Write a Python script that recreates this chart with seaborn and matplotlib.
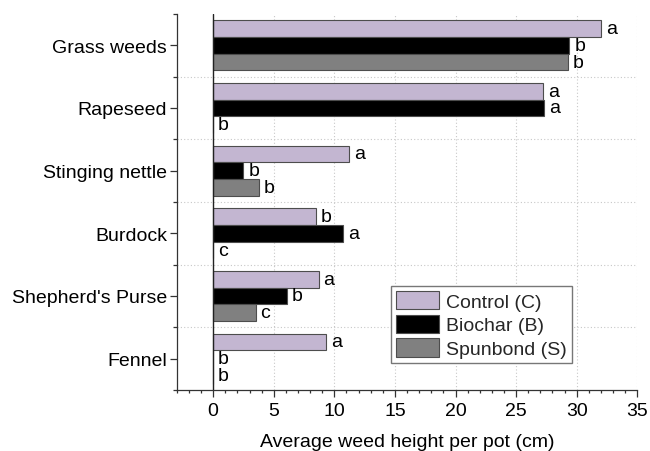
import matplotlib
matplotlib.use("Agg")
import matplotlib.pyplot as plt
from matplotlib.ticker import MultipleLocator, FixedLocator
import seaborn as sns
import pandas as pd

weeds = ["Grass weeds", "Rapeseed", "Stinging nettle", "Burdock", "Shepherd's Purse", "Fennel"]
treatments = ["Control (C)", "Biochar (B)", "Spunbond (S)"]
control = [32.0, 27.2, 11.2, 8.5, 8.7, 9.3]
biochar = [29.4, 27.3, 2.5, 10.7, 6.1, 0.0]
spunbond = [29.3, 0.0, 3.8, 0.0, 3.5, 0.0]
control_letters = ["a", "a", "a", "b", "a", "a"]
biochar_letters = ["b", "a", "b", "a", "b", "b"]
spunbond_letters = ["b", "b", "b", "c", "c", "b"]
colors = ["#c3b1d6", "#000000", "#808080"]
x_ticks = [0, 5, 10, 15, 20, 25, 30, 35]

rows = []
for t, vals in zip(treatments, [control, biochar, spunbond]):
    for w, v in zip(weeds, vals):
        rows.append({"weed": w, "treatment": t, "height": v})
df = pd.DataFrame(rows)

sns.set_style("ticks")
plt.rcParams["font.family"] = ["Liberation Sans", "DejaVu Sans"]

fig = plt.figure(figsize=(6.5, 4.52), dpi=100)
ax = fig.add_axes([0.272, 0.135, 0.7085, 0.8318])

sns.barplot(data=df, y="weed", x="height", hue="treatment", orient="h",
            order=weeds, hue_order=treatments, palette=colors,
            edgecolor="#4d4d4d", linewidth=0.8, width=0.8, ax=ax, zorder=3)

for cont, letters in zip(ax.containers, [control_letters, biochar_letters, spunbond_letters]):
    ax.bar_label(cont, labels=letters, padding=3.5, fontsize=14, color="black")

ax.set_xlim(-3, 35)
ax.set_ylim(5.5, -0.5)
ax.xaxis.set_major_locator(FixedLocator(x_ticks))
ax.xaxis.set_minor_locator(MultipleLocator(1))
ax.yaxis.set_minor_locator(FixedLocator([i - 0.5 for i in range(len(weeds) + 1)]))

ax.axvline(0, color="#222222", linewidth=1.0, zorder=4)
ax.grid(False)
for xv in x_ticks[1:]:
    ax.axvline(xv, color="#c8c8c8", linestyle=(0, (1, 2)), linewidth=0.8, zorder=0)
for yv in range(1, len(weeds)):
    ax.axhline(yv - 0.5, color="#c8c8c8", linestyle=(0, (1, 2)), linewidth=0.8, zorder=0)

for s in ["top", "right"]:
    ax.spines[s].set_visible(False)
for s in ["left", "bottom"]:
    ax.spines[s].set_color("#333333")
    ax.spines[s].set_linewidth(0.9)

ax.tick_params(axis="both", which="major", labelsize=14, colors="#333333", labelcolor="black", width=0.9)
ax.tick_params(axis="y", which="major", length=5, pad=2)
ax.tick_params(axis="y", which="minor", length=3, width=0.9, color="#333333")
ax.tick_params(axis="x", which="major", length=5, pad=4)
ax.tick_params(axis="x", which="minor", length=2.5, width=0.9, color="#333333")

ax.set_ylabel("")
ax.set_xlabel("Average weed height per pot (cm)", fontsize=14, labelpad=10, color="black")

leg = ax.legend(loc="upper right", bbox_to_anchor=(0.858, 0.277), fontsize=14,
                frameon=True, fancybox=False, handlelength=2.2, handleheight=1.1,
                handletextpad=0.4, labelspacing=0.2, borderpad=0.25, borderaxespad=0)
leg.get_frame().set_edgecolor("#777777")
leg.get_frame().set_linewidth(1.0)
leg.get_frame().set_alpha(1)

fig.savefig("out.png", dpi=100)
